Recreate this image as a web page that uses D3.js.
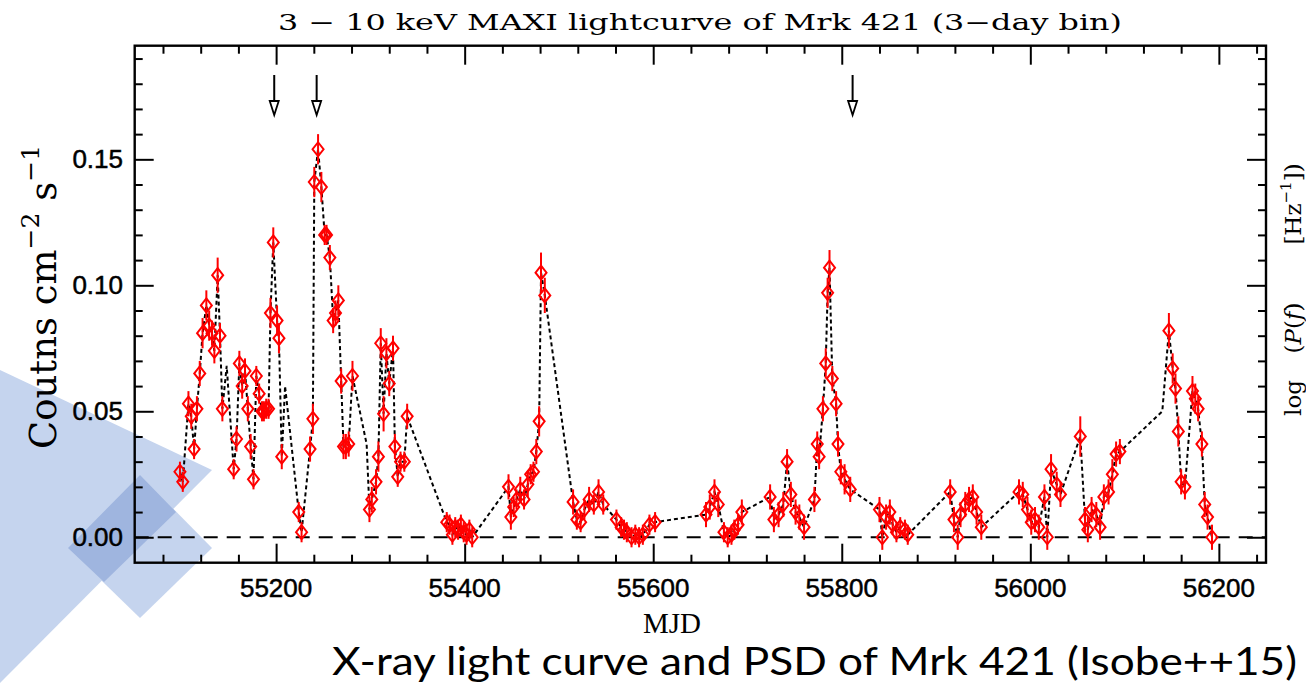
<!DOCTYPE html>
<html><head><meta charset="utf-8">
<script src="https://cdn.jsdelivr.net/npm/d3@7"></script>
<style>body{margin:0;background:#fff}</style>
</head><body><svg id="c" width="1306" height="683"></svg>
<script>
// ---------------- data ----------------
const obsMJD = [55098,55101,55107,55110,55113,55116,55119,55122,55126,55129,55132,55134.5,55138,55140.5,55143,
 55155,55158,55161,55164,55167,55170,55173,55176,55179,55182,55185,55187,55189.5,55192,55194,55197,55201,55203,55206,
 55224,55227,55236,55239,55240.5,55244.5,55248,55251.5,55253.5,55257,55260.5,55263,55266,55269,55271.5,55274,55277,55281,
 55299,55301.5,55306,55308.5,55311,55314,55317,55320,55324,55326,55329,55332,55336,55339,
 55381,55384,55387,55390,55393,55396,55399,55402,55405,55408,
 55446.5,55449,55452,55455,55459,55463,55467,55470,55473,55476,55479,55481,55485,
 55515,55519,55523,55527,55532,55537,55542,55547,
 55561,55566,55569,55572,55577,55581,55585,55589,55596,55602,
 55656,55660,55665,55669,55675,55679,55683,55686,55690,55694,
 55724,55728,55733,55738,55742,55746,55751,55755,55760,
 55771,55774,55776,55780,55783,55785,55787,55790,55794,55796,55799,55803,55809,
 55840,55843,55847,55851,55854,55858,55862,55867,55870,
 55915,55919,55923,55926,55931,55935,55939,55943,55948,
 55988,55992,55997,56001,56005,56009,56015,56018,56022,56028,56032,
 56053,56058,56061,56065,56070,56074,56078,56083,56087,56091,56095,
 56147,56151,56154,56157,56160,56164,56172,56175,56178,56182,56185,56188,56192.7];
const obsRate = [0.026,0.022,0.053,0.048,0.035,0.051,0.065,0.081,0.092,0.084,0.081,0.074,0.104,0.080,0.051,
 0.027,0.039,0.069,0.060,0.066,0.051,0.036,0.023,0.064,0.057,0.050,0.050,0.051,0.051,0.089,0.117,0.086,0.079,0.032,
 0.010,0.002,0.035,0.047,0.141,0.154,0.139,0.120,0.120,0.111,0.086,0.089,0.094,0.062,0.036,0.036,0.037,0.064,
 0.011,0.015,0.022,0.032,0.077,0.049,0.073,0.061,0.075,0.036,0.024,0.030,0.030,0.048,
 0.006,0.005,0.001,0.004,0.003,0.005,0.002,0.001,0.003,0.000,
 0.020,0.008,0.012,0.015,0.019,0.015,0.021,0.025,0.026,0.034,0.046,0.105,0.096,
 0.014,0.007,0.006,0.011,0.015,0.013,0.018,0.013,
 0.007,0.004,0.003,0.002,0.000,0.001,0.000,0.001,0.005,0.006,
 0.009,0.012,0.018,0.013,0.002,0.000,0.001,0.003,0.005,0.010,
 0.016,0.007,0.009,0.013,0.030,0.017,0.010,0.008,0.004,
 0.015,0.037,0.032,0.051,0.069,0.097,0.107,0.063,0.053,0.037,0.026,0.023,0.019,
 0.011,0.000,0.008,0.010,0.005,0.002,0.004,0.003,0.001,
 0.018,0.007,0.000,0.009,0.013,0.015,0.016,0.010,0.004,
 0.018,0.017,0.011,0.006,0.007,0.004,0.016,0.000,0.027,0.021,0.017,
 0.040,0.007,0.003,0.011,0.009,0.004,0.016,0.018,0.025,0.033,0.034,
 0.082,0.067,0.059,0.042,0.022,0.020,0.058,0.055,0.051,0.037,0.013,0.008,0.000];
const obsErr = [0.004,0.004,0.005,0.005,0.004,0.005,0.005,0.006,0.006,0.006,0.005,0.005,0.007,0.005,0.005,
 0.004,0.005,0.005,0.005,0.005,0.005,0.005,0.004,0.004,0.004,0.004,0.004,0.004,0.004,0.006,0.006,0.006,0.006,0.005,
 0.004,0.004,0.005,0.006,0.006,0.006,0.006,0.004,0.004,0.005,0.005,0.005,0.006,0.005,0.005,0.005,0.005,0.006,
 0.005,0.005,0.005,0.006,0.006,0.007,0.006,0.005,0.005,0.005,0.004,0.004,0.004,0.005,
 0.004,0.004,0.004,0.004,0.004,0.004,0.004,0.004,0.004,0.004,
 0.005,0.005,0.004,0.004,0.005,0.004,0.005,0.004,0.004,0.005,0.006,0.008,0.007,
 0.005,0.004,0.004,0.004,0.005,0.004,0.005,0.004,
 0.004,0.004,0.004,0.004,0.004,0.004,0.004,0.004,0.004,0.004,
 0.005,0.005,0.005,0.005,0.004,0.004,0.004,0.004,0.004,0.005,
 0.005,0.005,0.005,0.005,0.005,0.005,0.005,0.005,0.005,
 0.005,0.005,0.005,0.005,0.006,0.006,0.007,0.005,0.005,0.005,0.005,0.006,0.005,
 0.005,0.005,0.005,0.005,0.004,0.004,0.004,0.004,0.004,
 0.005,0.005,0.005,0.005,0.005,0.005,0.005,0.005,0.005,
 0.005,0.005,0.005,0.005,0.005,0.005,0.005,0.005,0.006,0.005,0.005,
 0.008,0.005,0.005,0.005,0.005,0.005,0.005,0.005,0.006,0.005,0.005,
 0.007,0.006,0.006,0.006,0.005,0.005,0.006,0.006,0.005,0.005,0.005,0.005,0.005];
const lineOnlyMJD = [55147.6,55209.5,55296,56140];
const lineOnlyRate = [0.068,0.060,0.037,0.050];
const arrowMJD = [55198,55243,55811.5];
const xMajor = [55200,55400,55600,55800,56000,56200];
const yMajor = [0.00,0.05,0.10,0.15];
const titleText = "3 \u2212 10 keV MAXI lightcurve of Mrk 421 (3\u2212day bin)";
const footText = "X-ray light curve and  PSD of Mrk 421 (Isobe++15)";

// ---------------- drawing ----------------
const svg = d3.select("#c");
const L = 134.7, R = 1266, T = 45.7, B = 562.7;
const x = d3.scaleLinear().domain([55050,56250]).range([L,R]);
const y = d3.scaleLinear().domain([-0.0101,0.1951]).range([B,T]);

// decorative shapes
svg.append("polygon").attr("points","0,370 212,470 0,683").attr("fill","#c5d4ee");
svg.append("polygon").attr("points","140,475 212,548 140,618 68,548").attr("fill","#c5d4ee");
svg.append("polygon").attr("points","140,475 176,512 104,582 68,548").attr("fill","#9fb5df");

const xMinor = d3.range(55080,56250,40).filter(v=>!xMajor.includes(v));
const yMinor = d3.range(0,0.195,0.01).map(v=>+v.toFixed(2)).filter(v=>!yMajor.some(m=>Math.abs(m-v)<1e-6));

function axis(gen, vals, size, transform){
  const g = svg.append("g").attr("transform",transform)
    .call(gen.tickValues(vals).tickSize(size).tickFormat(""));
  g.select(".domain").remove();
  g.selectAll("line").attr("stroke","#000").attr("stroke-width",2);
}
axis(d3.axisBottom(x), xMajor, -19, `translate(0,${B})`);
axis(d3.axisBottom(x), xMinor, -8, `translate(0,${B})`);
axis(d3.axisTop(x), xMajor, -19, `translate(0,${T})`);
axis(d3.axisTop(x), xMinor, -8, `translate(0,${T})`);
axis(d3.axisLeft(y), yMajor, -19, `translate(${L},0)`);
axis(d3.axisLeft(y), yMinor, -8, `translate(${L},0)`);
axis(d3.axisRight(y), yMajor, -19, `translate(${R},0)`);
axis(d3.axisRight(y), yMinor, -8, `translate(${R},0)`);

svg.append("rect").attr("x",L).attr("y",T).attr("width",R-L).attr("height",B-T)
  .attr("fill","none").attr("stroke","#000").attr("stroke-width",2.4);

// tick labels
svg.selectAll(".xl").data(xMajor).enter().append("text")
  .attr("x",d=>x(d)).attr("y",597).attr("text-anchor","middle")
  .attr("font-family","Liberation Sans, Arial, sans-serif").attr("font-size",26)
  .attr("stroke","#000").attr("stroke-width",0.5)
  .text(d=>d);
svg.selectAll(".yl").data(yMajor).enter().append("text")
  .attr("x",123).attr("y",d=>y(d)+9).attr("text-anchor","end")
  .attr("font-family","Liberation Sans, Arial, sans-serif").attr("font-size",26)
  .attr("stroke","#000").attr("stroke-width",0.5)
  .text(d=>d.toFixed(2));

// zero line
svg.append("line").attr("x1",L).attr("x2",R).attr("y1",y(0)).attr("y2",y(0))
  .attr("stroke","#000").attr("stroke-width",2).attr("stroke-dasharray","14,9");

// connecting dotted line
const pts = obsMJD.map((m,i)=>[m,obsRate[i]]).concat(lineOnlyMJD.map((m,i)=>[m,lineOnlyRate[i]]))
  .sort((a,b)=>a[0]-b[0]);
svg.append("path").datum(pts)
  .attr("d",d3.line().x(d=>x(d[0])).y(d=>y(d[1])))
  .attr("fill","none").attr("stroke","#000").attr("stroke-width",2).attr("stroke-dasharray","4,3");

// error bars and markers
const obs = obsMJD.map((m,i)=>({m, r:obsRate[i], e:obsErr[i]}));
svg.append("g").selectAll("line").data(obs).enter().append("line")
  .attr("x1",d=>x(d.m)).attr("x2",d=>x(d.m))
  .attr("y1",d=>y(d.r-d.e)).attr("y2",d=>y(d.r+d.e))
  .attr("stroke","#ff0000").attr("stroke-width",2);
svg.append("g").selectAll("path").data(obs).enter().append("path")
  .attr("d",d=>{const cx=x(d.m), cy=y(d.r); return `M${cx},${cy-7}L${cx+5.5},${cy}L${cx},${cy+7}L${cx-5.5},${cy}Z`;})
  .attr("fill","none").attr("stroke","#ff0000").attr("stroke-width",2);

// arrows
arrowMJD.forEach(m=>{
  const ax = x(m);
  svg.append("line").attr("x1",ax).attr("x2",ax).attr("y1",75).attr("y2",102)
    .attr("stroke","#000").attr("stroke-width",2);
  svg.append("path").attr("d",`M${ax-4.5},101L${ax+4.5},101L${ax},115Z`)
    .attr("fill","#fff").attr("stroke","#000").attr("stroke-width",1.8);
});

// titles
svg.append("text").attr("x",700).attr("y",30).attr("text-anchor","middle")
  .attr("font-family","DejaVu Serif, serif").attr("font-size",22)
  .attr("textLength",844).attr("lengthAdjust","spacingAndGlyphs").text(titleText);
svg.append("text").attr("x",672).attr("y",633).attr("text-anchor","middle")
  .attr("font-family","Liberation Serif, serif").attr("font-size",29).text("MJD");
const yl = svg.append("text").attr("transform","translate(56,297) rotate(-90)").attr("text-anchor","middle")
  .attr("font-family","DejaVu Serif, serif").attr("font-size",37);
yl.append("tspan").text("Coutns cm");
yl.append("tspan").attr("dy",-17).attr("font-size",25).text("\u22122");
yl.append("tspan").attr("dy",17).text(" s");
yl.append("tspan").attr("dy",-17).attr("font-size",25).text("\u22121");

// right-hand label, built as three word groups
const rg = svg.append("g").attr("font-family","DejaVu Serif, serif").attr("font-size",23);
rg.append("text").attr("transform","translate(1301,398) rotate(-90)").attr("text-anchor","middle").text("log");
const r2 = rg.append("text").attr("transform","translate(1301,328) rotate(-90)").attr("text-anchor","middle");
r2.append("tspan").text("(");
r2.append("tspan").attr("font-style","italic").text("P");
r2.append("tspan").text("(");
r2.append("tspan").attr("font-style","italic").text("f");
r2.append("tspan").text(")");
const r3 = rg.append("text").attr("transform","translate(1301,204) rotate(-90)").attr("text-anchor","middle");
r3.append("tspan").text("[Hz");
r3.append("tspan").attr("dy",-10).attr("font-size",15).text("\u22121");
r3.append("tspan").attr("dy",10).text("])");

svg.append("text").attr("x",332).attr("y",675)
  .attr("font-family","Lato, Open Sans, sans-serif").attr("font-size",38)
  .attr("textLength",965).attr("lengthAdjust","spacingAndGlyphs").text(footText);
</script></body></html>
